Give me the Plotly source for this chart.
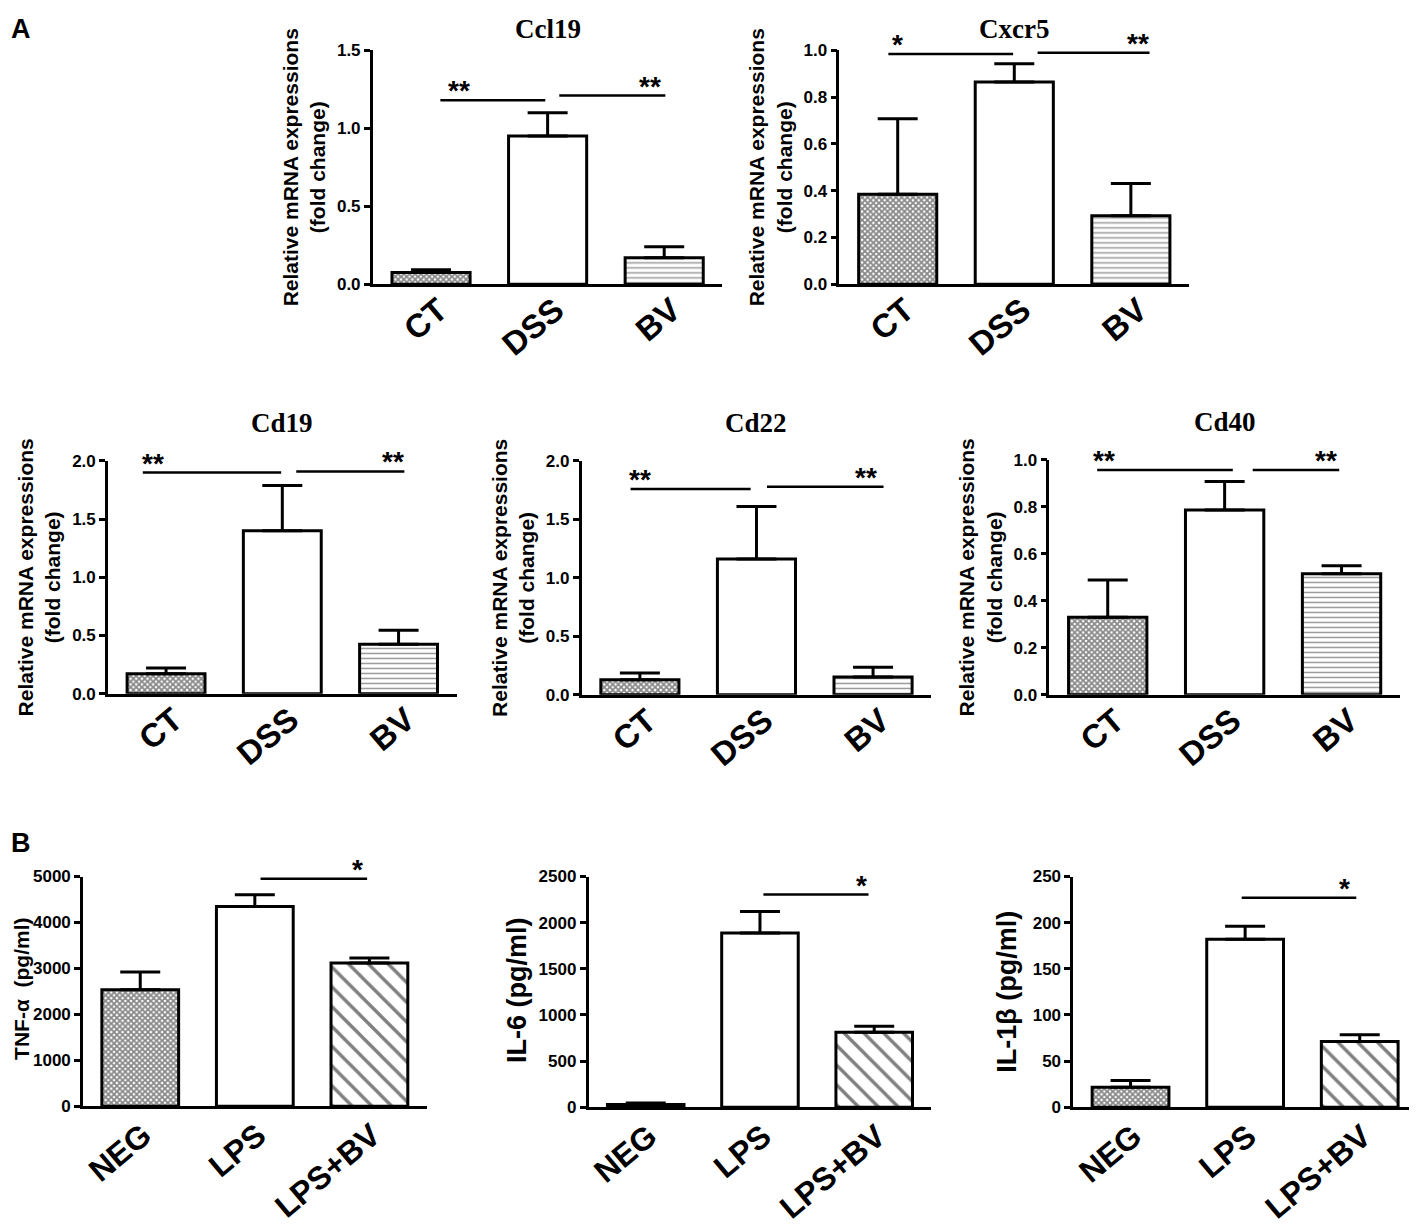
import plotly.graph_objects as go

# the page puts the figure a little right of and below the picture's corner and
# squeezes it slightly in height; positions below are picture pixels
OX, OY, SY = 8, 16.6, 0.9855
W, H = 1401, 1225
SANS = 'Liberation Sans, Arial, sans-serif'
SERIF = 'Liberation Serif, Times New Roman, serif'

# ---- data ----
mrna_groups = ['CT', 'DSS', 'BV']
cyto_groups = ['NEG', 'LPS', 'LPS+BV']

ccl19_mean = [0.075, 0.95, 0.17]
ccl19_sd = [0.017, 0.15, 0.07]
cxcr5_mean = [0.384, 0.865, 0.292]
cxcr5_sd = [0.324, 0.078, 0.139]
cd19_mean = [0.172, 1.40, 0.425]
cd19_sd = [0.048, 0.39, 0.12]
cd22_mean = [0.128, 1.16, 0.151]
cd22_sd = [0.057, 0.45, 0.083]
cd40_mean = [0.33, 0.787, 0.515]
cd40_sd = [0.159, 0.121, 0.034]
tnf_mean = [2536, 4348, 3116]
tnf_sd = [384, 253, 109]
il6_mean = [29, 1887, 812]
il6_sd = [18, 234, 65]
il1b_mean = [21.6, 182, 71.4]
il1b_sd = [7.3, 14, 7.2]

# significance bars: (from, to, height, star position, label)
ccl19_sig = [(0.08, 0.98, 1.18, 0.24, '**'), (1.10, 2.01, 1.21, 1.88, '**')]
cxcr5_sig = [(-0.08, 0.99, 0.985, 0.0, '*'), (1.20, 2.16, 0.99, 2.06, '**')]
cd19_sig = [(-0.20, 0.99, 1.90, -0.11, '**'), (1.12, 2.05, 1.91, 1.95, '**')]
cd22_sig = [(-0.08, 0.95, 1.76, 0.0, '**'), (1.09, 2.09, 1.78, 1.94, '**')]
cd40_sig = [(-0.09, 1.07, 0.957, -0.03, '**'), (1.24, 1.98, 0.957, 1.87, '**')]
tnf_sig = [(1.05, 1.98, 4950, 1.90, '*')]
il6_sig = [(1.03, 1.95, 2305, 1.89, '*')]
il1b_sig = [(0.97, 1.97, 227, 1.87, '*')]

MRNA_TITLE = 'Relative mRNA expressions<br>(fold change)'

# box = plot area in picture pixels (left, right, top, bottom)
panels = [
    dict(name='Ccl19', groups=mrna_groups, mean=ccl19_mean, sd=ccl19_sd, sig=ccl19_sig,
         ymax=1.5, dtick=0.5, fmt='.1f', ytitle=MRNA_TITLE, box=(372, 722, 50, 284)),
    dict(name='Cxcr5', groups=mrna_groups, mean=cxcr5_mean, sd=cxcr5_sd, sig=cxcr5_sig,
         ymax=1.0, dtick=0.2, fmt='.1f', ytitle=MRNA_TITLE, box=(839, 1189, 50, 284)),
    dict(name='Cd19', groups=mrna_groups, mean=cd19_mean, sd=cd19_sd, sig=cd19_sig,
         ymax=2.0, dtick=0.5, fmt='.1f', ytitle=MRNA_TITLE, box=(107, 456, 461, 694)),
    dict(name='Cd22', groups=mrna_groups, mean=cd22_mean, sd=cd22_sd, sig=cd22_sig,
         ymax=2.0, dtick=0.5, fmt='.1f', ytitle=MRNA_TITLE, box=(581, 931, 461, 695)),
    dict(name='Cd40', groups=mrna_groups, mean=cd40_mean, sd=cd40_sd, sig=cd40_sig,
         ymax=1.0, dtick=0.2, fmt='.1f', ytitle=MRNA_TITLE, box=(1049, 1400, 460, 695)),
    dict(name='', groups=cyto_groups, mean=tnf_mean, sd=tnf_sd, sig=tnf_sig,
         ymax=5000, dtick=1000, fmt='d', ytitle='TNF-α  (pg/ml)', box=(82, 426, 877, 1107),
         ytitle_at=(None, 990)),
    dict(name='', groups=cyto_groups, mean=il6_mean, sd=il6_sd, sig=il6_sig,
         ymax=2500, dtick=500, fmt='d', ytitle='IL-6 (pg/ml)', box=(588, 931, 877, 1108),
         ytitle_at=(517, 991)),
    dict(name='', groups=cyto_groups, mean=il1b_mean, sd=il1b_sd, sig=il1b_sig,
         ymax=250, dtick=50, fmt='d', ytitle='IL-1β (pg/ml)', box=(1073, 1409, 877, 1108),
         xmax=2.43, ytitle_at=(1007, 992)),
]

# pattern for each bar: control mesh, open, treated (lines)
mrna_pattern = dict(shape=['x', '', '-'], size=[4, 8, 5], solidity=[0.7, 0.1, 0.3],
                    fgcolor=['#111111', 'black', '#333333'], bgcolor='white', fillmode='overlay')
cyto_pattern = dict(shape=['x', '', '\\'], size=[4, 8, 14], solidity=[0.7, 0.1, 0.24],
                    fgcolor=['#111111', 'black', 'black'], bgcolor='white', fillmode='overlay')


def fx(px):
    return (px - OX) / W


def fy(py):
    return 1 - (py - OY) / SY / H


fig = go.Figure()
shapes = []
annotations = []

for i, p in enumerate(panels, start=1):
    xa = 'x' if i == 1 else f'x{i}'
    ya = 'y' if i == 1 else f'y{i}'
    cyto = p['groups'] is cyto_groups

    fig.add_trace(go.Bar(
        x=[0, 1, 2], y=p['mean'], width=0.67,
        xaxis=xa, yaxis=ya, showlegend=False,
        marker=dict(color='white', line=dict(color='black', width=3),
                    pattern=cyto_pattern if cyto else mrna_pattern),
        error_y=dict(type='data', symmetric=False, array=p['sd'], arrayminus=[0, 0, 0],
                     color='black', thickness=3, width=20),
    ))

    x0, x1, top, bottom = p['box']
    fig.layout[f'xaxis{i}'] = dict(
        domain=[fx(x0), min(1, fx(x1))], anchor=ya, range=[-0.5, p.get('xmax', 2.5)],
        tickvals=[0, 1, 2], ticktext=p['groups'], tickangle=-40,
        ticks='', showline=True, linewidth=2.5, linecolor='black',
        showgrid=False, zeroline=False,
        ticklabelshift=3 if cyto else 8, ticklabelstandoff=-5 if cyto else -9,
        tickfont=dict(family=SANS, size=32 if cyto else 33, color='black', weight='bold'),
    )
    yaxis = dict(
        domain=[fy(bottom), fy(top)], anchor=xa, range=[0, p['ymax']],
        dtick=p['dtick'], tickformat=p['fmt'],
        ticks='outside', ticklen=6, tickwidth=2.5, tickcolor='black',
        showline=True, linewidth=2.5, linecolor='black',
        showgrid=False, zeroline=False,
        tickfont=dict(family=SANS, size=17, color='black', weight='bold'),
    )
    if cyto:
        tx, ty = p['ytitle_at']
        if tx is None:
            # sits on the left edge of the picture
            pos = dict(x=0, xanchor='left', borderpad=0,
                       font=dict(family=SANS, size=21, color='black', weight='bold'))
        else:
            pos = dict(x=fx(tx), xanchor='center',
                       font=dict(family=SANS, size=27, color='black', weight='bold'))
        annotations.append(dict(
            text=p['ytitle'], textangle=-90, xref='paper', yref='paper',
            y=fy(ty), yanchor='middle', showarrow=False, **pos,
        ))
    else:
        yaxis['title'] = dict(text=p['ytitle'], standoff=6,
                              font=dict(family=SANS, size=21, color='black', weight='bold'))
    fig.layout[f'yaxis{i}'] = yaxis

    if p['name']:
        ty = fy(top - 39) + 16 / H
        annotations.append(dict(
            text=p['name'], xref=f'{xa} domain', yref='paper', x=0.5,
            y=min(1, ty), yanchor='top', yshift=5 if ty > 1 else 0, showarrow=False,
            font=dict(family=SERIF, size=27, color='black', weight='bold'),
        ))

    for s0, s1, h, sx, label in p['sig']:
        shapes.append(dict(type='line', xref=xa, yref=ya, x0=s0, x1=s1, y0=h, y1=h,
                           line=dict(color='black', width=2.5)))
        annotations.append(dict(
            text=label, xref=xa, yref=ya, x=sx, y=h, yanchor='bottom', yshift=-8,
            showarrow=False, font=dict(family=SANS, size=28, color='black', weight='bold'),
        ))

for letter, ypx in [('A', 18), ('B', 842)]:
    ty = fy(ypx) + 16 / H
    annotations.append(dict(
        text=letter, xref='paper', yref='paper', x=fx(20),
        y=min(1, ty), yshift=5 if ty > 1 else 0, xanchor='center', yanchor='top',
        showarrow=False, font=dict(family=SANS, size=27, color='black', weight='bold'),
    ))

fig.update_layout(
    width=W, height=H,
    margin=dict(l=0, r=0, t=0, b=0),
    paper_bgcolor='white', plot_bgcolor='white',
    bargap=0.3,
    shapes=shapes,
    annotations=annotations,
)

fig.write_html('out.html')
